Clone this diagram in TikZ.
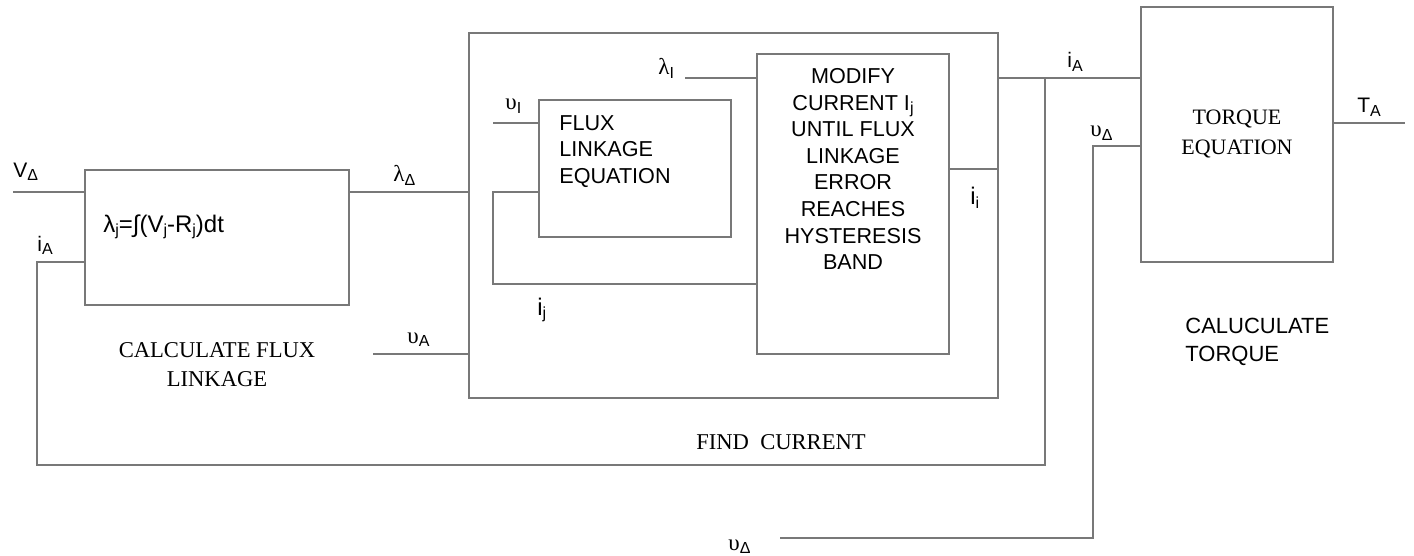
\documentclass[tikz,border=0pt]{standalone}
\usepackage{fontspec}
\setmainfont{Liberation Serif}
\setsansfont{Liberation Sans}
\usepackage{tikz}

\definecolor{wiregray}{RGB}{120,120,120}
\newcommand{\lsub}[1]{\raisebox{-0.3ex}{\footnotesize #1}}
\newcommand{\gk}[1]{{\rmfamily\fontsize{11.5}{12}\selectfont #1}}

\tikzset{
  wire/.style={draw=wiregray, line width=0.6pt},
  blk/.style={wire, rectangle, inner sep=0pt, outer sep=0pt},
  lbl/.style={inner sep=0pt, anchor=base west, font=\sffamily\fontsize{10.5}{12}\selectfont},
  boxtext/.style={inner sep=0pt, font=\sffamily\fontsize{10.8}{13.3}\selectfont},
  captext/.style={inner sep=0pt, align=center, font=\rmfamily\fontsize{11.3}{14.5}\selectfont}
}

\begin{document}
\begin{tikzpicture}[x=0.5pt,y=-0.5pt]
\useasboundingbox (0,0) rectangle (1414,556);

%Shape: Rectangle
\node[blk, minimum width=132pt, minimum height=67.5pt] (calc) at (217,237.5) {};
%Shape: Rectangle
\node[blk, minimum width=264.5pt, minimum height=182.5pt] (find) at (733.5,215.5) {};
%Shape: Rectangle
\node[blk, minimum width=96pt, minimum height=68.5pt] (flux) at (635,168.5) {};
%Shape: Rectangle
\node[blk, minimum width=96pt, minimum height=150pt] (modify) at (853,204) {};
%Shape: Rectangle
\node[blk, minimum width=96pt, minimum height=127.5pt, align=center,
      font=\rmfamily\fontsize{11}{15}\selectfont] (torque) at (1237,134.5) {TORQUE\\EQUATION};

% wire ends
\coordinate (vin) at (13,192);
\coordinate (fbl) at (37,262);
\coordinate (fbc) at (37,465);
\coordinate (fbr) at (1045,465);
\coordinate (tap) at (1045,78);
\coordinate (vi) at (493,123);
\coordinate (lp1) at (493,192);
\coordinate (lp2) at (493,284);
\coordinate (li) at (685,78);
\coordinate (ii) at (998,169);
\coordinate (va) at (373,354);
\coordinate (vd1) at (1093,146);
\coordinate (vd2) at (1093,538);
\coordinate (vd3) at (780,538);
\coordinate (tout) at (1405,123);

%Straight Lines
\draw[wire] (vin) -- (vin -| calc.west);
\draw[wire] (calc.east |- vin) -- (find.west |- vin);
\draw[wire] (fbl -| calc.west) -- (fbl) -- (fbc) -- (fbr) -- (tap);
\draw[wire] (find.east |- tap) -- (torque.west |- tap);
\draw[wire] (vi) -- (vi -| flux.west);
\draw[wire] (lp1 -| flux.west) -- (lp1) -- (lp2) -- (lp2 -| modify.west);
\draw[wire] (li) -- (li -| modify.west);
\draw[wire] (modify.east |- ii) -- (ii -| find.east);
\draw[wire] (va) -- (va -| find.west);
\draw[wire] (vd1 -| torque.west) -- (vd1) -- (vd2) -- (vd3);
\draw[wire] (tout -| torque.east) -- (tout);

% Text Node
\node[lbl] (lvin) at (13,177) {V\lsub{Δ}};
% Text Node
\node[lbl] (lia) at (37,251) {i\lsub{A}};
% Text Node
\node[lbl] (lform) at (103,232) {\fontsize{12}{14}\selectfont λ\lsub{j}=∫(V\lsub{j}-R\lsub{j})dt};
% Text Node
\node[lbl] (llam) at (393,182) {\gk{λ}\lsub{Δ}};
% Text Node
\node[lbl] (lvi) at (505,110) {\gk{υ}\lsub{I}};
% Text Node
\node[lbl] (lli) at (658,75) {\gk{λ}\lsub{I}};
% Text Node
\node[lbl] (lij) at (537,315) {\fontsize{12}{13}\selectfont i\lsub{j}};
% Text Node
\node[lbl] (lii) at (970,205) {\fontsize{12}{13}\selectfont i\lsub{i}};
% Text Node
\node[lbl] (lva) at (407,343) {\gk{υ}\lsub{A}};
% Text Node
\node[lbl] (lia2) at (1067,68) {i\lsub{A}};
% Text Node
\node[lbl] (lvd) at (1090,137) {\gk{υ}\lsub{Δ}};
% Text Node
\node[lbl] (lta) at (1357,113) {T\lsub{A}};
% Text Node
\node[lbl] (lvd2) at (728,550) {\gk{υ}\lsub{Δ}};

% Text Node
\node[boxtext, anchor=north west, align=left] (tflux) at (559,115) {FLUX\\LINKAGE\\EQUATION};
% Text Node
\node[boxtext, anchor=north, align=center] (tmod) at (853,68) {MODIFY\\CURRENT I\lsub{j}\\UNTIL FLUX\\LINKAGE\\ERROR\\REACHES\\HYSTERESIS\\BAND};
% Text Node
\node[captext] (tcalc) at (217,365) {CALCULATE FLUX\\LINKAGE};
% Text Node
\node[captext] (tfind) at (781,442) {FIND\ \ CURRENT};
% Text Node
\node[boxtext, anchor=west, align=left, font=\sffamily\fontsize{11}{14}\selectfont] (ttorq) at (1185,342) {CALUCULATE\\TORQUE};

\end{tikzpicture}
\end{document}
